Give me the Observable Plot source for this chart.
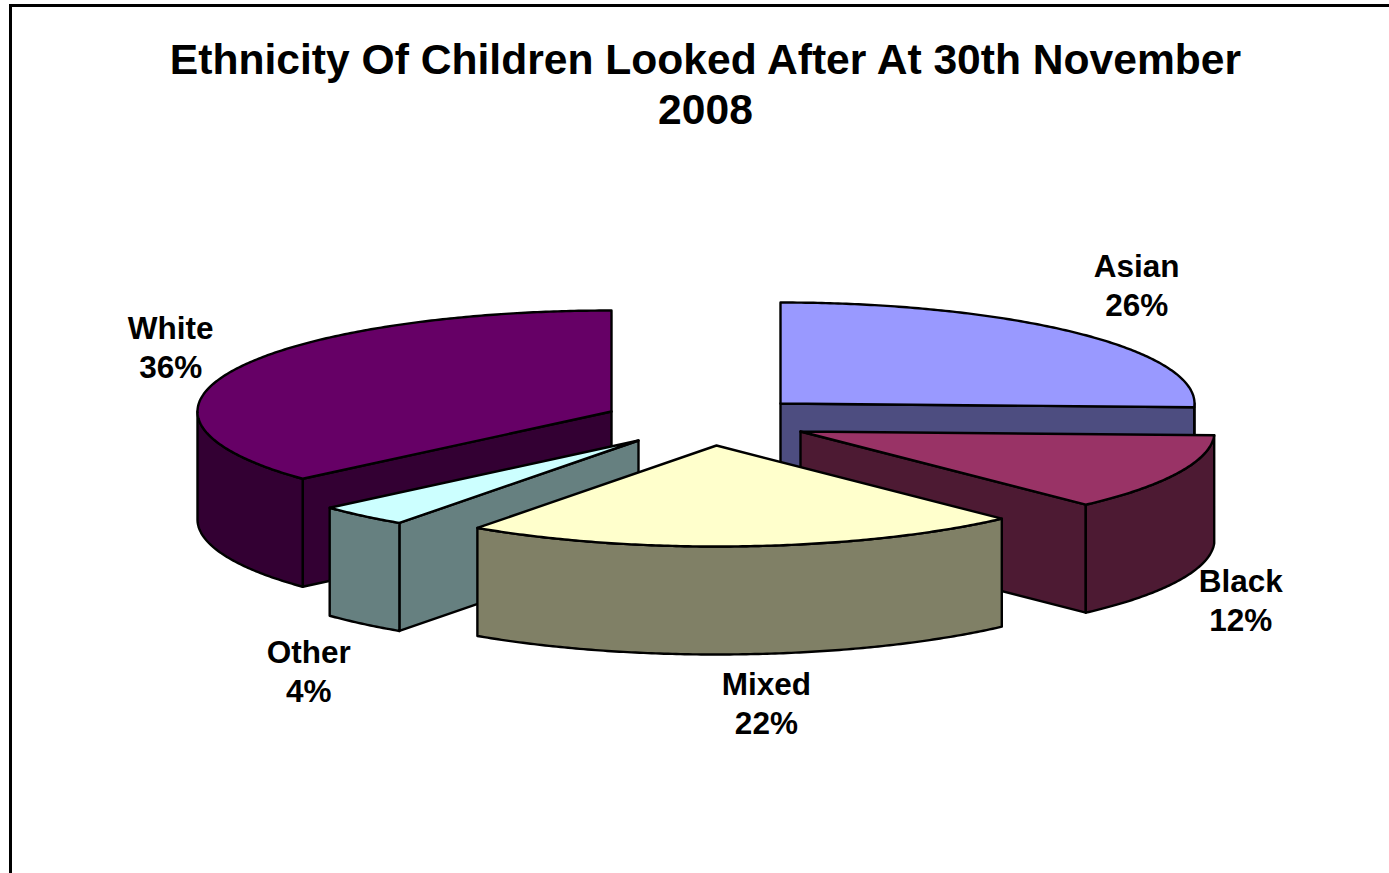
<!DOCTYPE html>
<html><head><meta charset="utf-8">
<script src="https://cdn.jsdelivr.net/npm/d3@7"></script>
<script src="https://cdn.jsdelivr.net/npm/@observablehq/plot@0.6"></script>
<style>
html,body{margin:0;padding:0;background:#fff;overflow:hidden}
#frame{position:absolute;left:9px;top:4px;width:1400px;height:900px;border:3px solid #000;box-sizing:border-box}
#title{position:absolute;left:0;top:34px;width:1411px;text-align:center;font:bold 42.6px/50px "Liberation Sans",Arial,sans-serif;color:#000}
#chart{position:absolute;left:0;top:0}
#chart svg{background:transparent}
</style></head><body>
<div id="frame"></div>
<div id="chart"></div>
<div id="title">Ethnicity Of Children Looked After At 30th November<br>2008</div>
<script>
// clockwise from 12 o'clock
const categories = ["Asian","Black","Mixed","Other","White"];
const shares     = [25.6, 12.3, 21.9, 3.6, 36.6];
const percentLabels = ["26%","12%","22%","4%","36%"];
const topColors  = ["#9999FF","#993366","#FFFFCC","#CCFFFF","#660066"];
const sideColors = ["#4D4D80","#4D1A33","#808066","#668080","#330033"];

// pie geometry: the centre of each exploded slice in the picture's frame, tilt and depth
const centreX = [780, 800, 716, 638, 611];
const centreY = [403, 431, 445, 440, 411];
const rx = 414, ry = 101, depth = 108;
const labelDx = [58, 63, 20, -54, -63];
const labelDy = [-49, 126, 156, 154, -24];
const drawOrder = ["Asian","Black","White","Other","Mixed"];

let cum = 0;
const slices = categories.map((name,i)=>{
  const a0 = cum/100*2*Math.PI; cum += shares[i];
  const a1 = cum/100*2*Math.PI;
  return {name,i,a0,a1,cx:centreX[i],cy:centreY[i]};
});
const rim = (s,a,d=0)=>[s.cx+rx*Math.sin(a), s.cy-ry*Math.cos(a)+d];
const arc = (s,a0,a1,d=0)=>{
  const n = Math.max(2,Math.ceil(Math.abs(a1-a0)/0.01));
  return d3.range(n+1).map(k=>rim(s,a0+(a1-a0)*k/n,d));
};
const polys = [];
let pid = 0;
const add = (pts,fill)=>{const id=pid++; pts.forEach(p=>polys.push({id,x:p[0],y:p[1],fill}));};
for (const name of drawOrder){
  const s = slices.find(d=>d.name===name), i=s.i, side=sideColors[i];
  const apex=[s.cx,s.cy], apexB=[s.cx,s.cy+depth];
  // cut faces that look towards the viewer
  const cuts = {Asian:[s.a1],Black:[s.a1],White:[s.a0],Other:[s.a0],Mixed:[]}[name];
  for (const a of cuts) add([apex,rim(s,a),rim(s,a,depth),apexB,apex],side);
  // outer wall: the part of the rim on the near side
  const w0=Math.max(s.a0,Math.PI/2), w1=Math.min(s.a1,3*Math.PI/2);
  if (w1>w0){
    const top=arc(s,w0,w1), bot=arc(s,w1,w0,depth);
    add([...top,...bot,top[0]],side);
  }
  // top face
  add([apex,...arc(s,s.a0,s.a1),apex],topColors[i]);
}
const labels = slices.map(s=>{
  const mid=(s.a0+s.a1)/2, [x,y]=rim(s,mid);
  return {x,y,dx:labelDx[s.i],dy:labelDy[s.i],text:s.name+"\n"+percentLabels[s.i]};
});
const plot = Plot.plot({
  width:1389,height:873,margin:0,
  x:{domain:[0,1389],range:[0,1389],axis:null},
  y:{domain:[0,873],range:[0,873],axis:null},
  color:{type:"identity"},
  marks:[
    Plot.line(polys,{x:"x",y:"y",z:"id",fill:"fill",stroke:"#000",strokeWidth:2.4,curve:"linear",strokeLinejoin:"round"}),
    ...labels.map(l=>Plot.text([l],{x:"x",y:"y",text:"text",dx:l.dx,dy:l.dy,fontSize:31.5,fontWeight:"bold",fontFamily:"Liberation Sans",fill:"#000",lineHeight:1.24}))
  ]
});
document.getElementById("chart").append(plot);
</script></body></html>
